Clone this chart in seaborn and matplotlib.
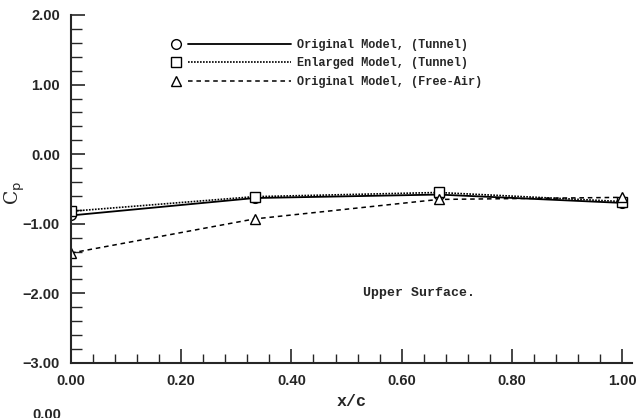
import numpy as np
import pandas as pd
import matplotlib
matplotlib.use("Agg")
import matplotlib.pyplot as plt
import seaborn as sns
from matplotlib.lines import Line2D
from matplotlib.legend_handler import HandlerBase
from matplotlib.ticker import MultipleLocator, FuncFormatter

# ---- data ----
x_c = [0.0, 0.333, 0.667, 1.0]
cp_orig_tunnel = [-0.88, -0.63, -0.58, -0.70]
cp_enl_tunnel = [-0.82, -0.61, -0.55, -0.68]
cp_orig_free = [-1.42, -0.93, -0.65, -0.62]
series_names = ["Original Model, (Tunnel)",
                "Enlarged Model, (Tunnel)",
                "Original Model, (Free-Air)"]
x_ticks = [0.0, 0.2, 0.4, 0.6, 0.8, 1.0]
y_ticks = [-3.0, -2.0, -1.0, 0.0, 1.0, 2.0]

sns.set_style("ticks")
plt.rcParams['font.family'] = ['Liberation Mono', 'DejaVu Sans']

fig = plt.figure(figsize=(6.43, 4.18), dpi=100)
ax = fig.add_axes([71/643, 55/418, (632-71)/643, (363-15)/418])

styles = [
    dict(marker="o", linestyle="-", lw=1.3),
    dict(marker="s", linestyle=(0, (1, 0.8)), lw=1.2),
    dict(marker="^", linestyle=(0, (3, 2.5)), lw=1.1),
]
all_y = [cp_orig_tunnel, cp_enl_tunnel, cp_orig_free]
for yv, st in zip(all_y, styles):
    df = pd.DataFrame({"x": x_c, "cp": yv})
    sns.lineplot(data=df, x="x", y="cp", ax=ax, color="black",
                 marker=st["marker"], linestyle=st["linestyle"], lw=st["lw"],
                 markersize=7, markerfacecolor="white", markeredgecolor="black",
                 markeredgewidth=1.0, sort=False, estimator=None)

ax.set_xlim(0, 1.018)
ax.set_ylim(-3.0, 2.0)
ax.set_xticks(x_ticks)
ax.set_yticks(y_ticks)
ax.xaxis.set_minor_locator(MultipleLocator(0.04))
ax.yaxis.set_minor_locator(MultipleLocator(0.2))
fmt = FuncFormatter(lambda v, p: ("%.2f" % v).replace("-", "\u2212"))
ax.xaxis.set_major_formatter(fmt)
ax.yaxis.set_major_formatter(fmt)
for lab in ax.get_xticklabels() + ax.get_yticklabels():
    lab.set_fontfamily("Liberation Sans")
    lab.set_fontsize(10.5)
    lab.set_fontweight("bold")
ax.tick_params(which="major", direction="in", length=10, width=1.2, pad=8)
ax.tick_params(axis="y", which="minor", direction="in", length=8, width=1.0)
ax.tick_params(axis="x", which="minor", direction="in", length=6.5, width=1.0)
sns.despine(ax=ax)
for s in ["left", "bottom"]:
    ax.spines[s].set_linewidth(1.5)

ax.set_xlabel("x/c", fontsize=12, labelpad=4, fontweight="bold")
ax.set_ylabel(r"C$_{\mathrm{p}}$", fontsize=13.5, family="DejaVu Serif")
ax.yaxis.set_label_coords(-0.078, 0.49)

ax.text(0.53, -2.0, "Upper Surface.", fontsize=9.5, va="center", ha="left",
        fontweight="bold")

LEG_LS = [st["linestyle"] for st in styles]
LEG_LW = [st["lw"] for st in styles]
LEG_MK = [st["marker"] for st in styles]


class MarkerThenLine(HandlerBase):
    def __init__(self, idx):
        super().__init__()
        self.idx = idx

    def create_artists(self, legend, orig_handle, xdescent, ydescent,
                       width, height, fontsize, trans):
        i = self.idx
        y = height / 2 - ydescent
        m = Line2D([-xdescent + 3], [y], marker=LEG_MK[i],
                   markersize=7, markerfacecolor="white",
                   markeredgecolor="black", markeredgewidth=1.0,
                   linestyle="none", transform=trans)
        l = Line2D([-xdescent + 12, -xdescent + width], [y, y],
                   color="black", linestyle=LEG_LS[i],
                   lw=LEG_LW[i], transform=trans)
        return [m, l]


handles = [Line2D([], [], color="black") for _ in styles]
leg = ax.legend(handles, series_names, loc="upper left",
                bbox_to_anchor=(90/561, 1 - 13/348), frameon=False,
                handlelength=10.0, handletextpad=0.5, labelspacing=0.55,
                prop={"family": "Liberation Mono", "size": 8.6,
                      "weight": "bold"},
                handler_map={h: MarkerThenLine(i) for i, h in enumerate(handles)})

fig.text(32/643, -4/418, "0.00", fontsize=10.5, family="Liberation Sans",
         fontweight="bold", va="bottom")

fig.savefig("out.png", dpi=100)
